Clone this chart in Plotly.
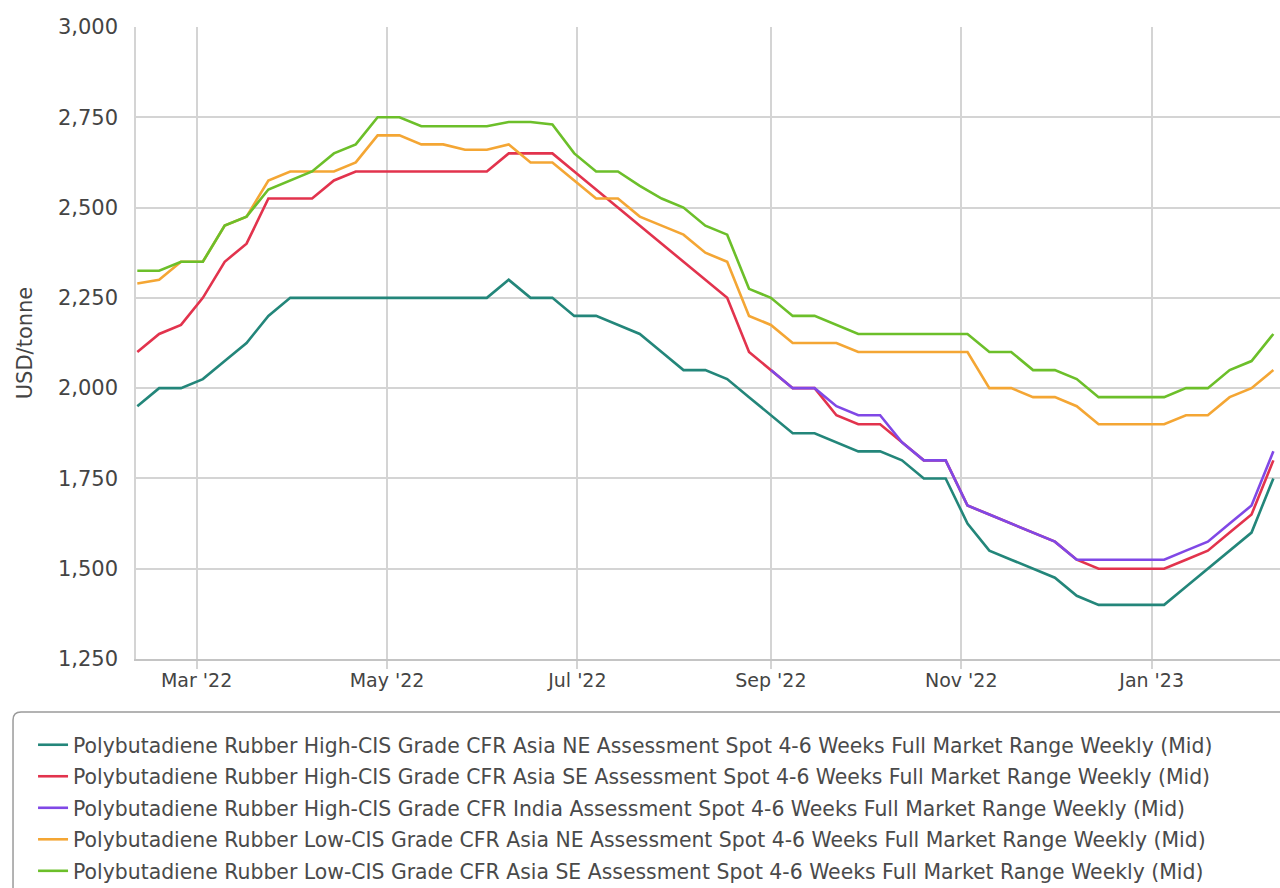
import pandas as pd
import plotly.graph_objects as go

dates = pd.date_range("2022-02-10", periods=53, freq="7D")

names = [
    "Polybutadiene Rubber High-CIS Grade CFR Asia NE Assessment Spot 4-6 Weeks Full Market Range Weekly (Mid)",
    "Polybutadiene Rubber High-CIS Grade CFR Asia SE Assessment Spot 4-6 Weeks Full Market Range Weekly (Mid)",
    "Polybutadiene Rubber High-CIS Grade CFR India Assessment Spot 4-6 Weeks Full Market Range Weekly (Mid)",
    "Polybutadiene Rubber Low-CIS Grade CFR Asia NE Assessment Spot 4-6 Weeks Full Market Range Weekly (Mid)",
    "Polybutadiene Rubber Low-CIS Grade CFR Asia SE Assessment Spot 4-6 Weeks Full Market Range Weekly (Mid)",
]

high_ne = [1950, 2000, 2000, 2025, 2075, 2125, 2200, 2250, 2250, 2250,
           2250, 2250, 2250, 2250, 2250, 2250, 2250, 2300, 2250, 2250,
           2200, 2200, 2175, 2150, 2100, 2050, 2050, 2025, 1975, 1925,
           1875, 1875, 1850, 1825, 1825, 1800, 1750, 1750, 1625, 1550,
           1525, 1500, 1475, 1425, 1400, 1400, 1400, 1400, 1450, 1500,
           1550, 1600, 1750]

high_se = [2100, 2150, 2175, 2250, 2350, 2400, 2525, 2525, 2525, 2575,
           2600, 2600, 2600, 2600, 2600, 2600, 2600, 2650, 2650, 2650,
           2600, 2550, 2500, 2450, 2400, 2350, 2300, 2250, 2100, 2050,
           2000, 2000, 1925, 1900, 1900, 1850, 1800, 1800, 1675, 1650,
           1625, 1600, 1575, 1525, 1500, 1500, 1500, 1500, 1525, 1550,
           1600, 1650, 1800]

high_india = [None] * 29 + [
           2050, 2000, 2000, 1950, 1925, 1925, 1850, 1800, 1800, 1675,
           1650, 1625, 1600, 1575, 1525, 1525, 1525, 1525, 1525, 1550,
           1575, 1625, 1675, 1825]

low_ne = [2290, 2300, 2350, 2350, 2450, 2475, 2575, 2600, 2600, 2600,
          2625, 2700, 2700, 2675, 2675, 2660, 2660, 2675, 2625, 2625,
          2575, 2525, 2525, 2475, 2450, 2425, 2375, 2350, 2200, 2175,
          2125, 2125, 2125, 2100, 2100, 2100, 2100, 2100, 2100, 2000,
          2000, 1975, 1975, 1950, 1900, 1900, 1900, 1900, 1925, 1925,
          1975, 2000, 2050]

low_se = [2325, 2325, 2350, 2350, 2450, 2475, 2550, 2575, 2600, 2650,
          2675, 2750, 2750, 2725, 2725, 2725, 2725, 2737, 2737, 2730,
          2650, 2600, 2600, 2560, 2525, 2500, 2450, 2425, 2275, 2250,
          2200, 2200, 2175, 2150, 2150, 2150, 2150, 2150, 2150, 2100,
          2100, 2050, 2050, 2025, 1975, 1975, 1975, 1975, 2000, 2000,
          2050, 2075, 2150]

series = [high_ne, high_se, high_india, low_ne, low_se]
colors = ["#23867a", "#e2334d", "#8048e6", "#f4a634", "#6cbf2a"]

y_ticks = [1250, 1500, 1750, 2000, 2250, 2500, 2750, 3000]

FONT = "DejaVu Sans"

fig = go.Figure()
for i, (name, vals, col) in enumerate(zip(names, series, colors)):
    fig.add_trace(go.Scatter(
        x=dates, y=vals, name=name, mode="lines",
        line=dict(color=col, width=2.6),
        legendgroup=f"g{i}",
    ))

fig.update_layout(
    width=1280, height=888,
    margin=dict(l=136, r=0, t=27, b=229, autoexpand=False),
    paper_bgcolor="white", plot_bgcolor="white",
    font=dict(family=FONT, color="#444"),
    showlegend=True,
    legend=dict(
        x=-0.090, xanchor="left", y=-0.1044, yanchor="top",
        font=dict(size=20.4, color="#4a4a4a", family=FONT),
        bgcolor="rgba(0,0,0,0)", borderwidth=0,
        traceorder="grouped", tracegroupgap=2,
        itemwidth=30,
    ),
    xaxis=dict(
        range=["2022-02-09 14:00", "2023-02-11 03:00"],
        tickformat="%b '%y", dtick="M2", tick0="2022-03-01",
        showgrid=True, gridcolor="#d4d4d4", gridwidth=1.5,
        showline=True, linecolor="#c4c4c4", linewidth=2,
        ticks="outside", ticklen=8, tickcolor="#d4d4d4", tickwidth=1.5,
        ticklabelstandoff=-5,
        tickfont=dict(size=19, color="#444"),
        zeroline=False,
    ),
    yaxis=dict(
        range=[1250, 3000], tickvals=y_ticks,
        tickformat=",",
        showgrid=True, gridcolor="#d4d4d4", gridwidth=1.5,
        showline=True, linecolor="#d4d4d4", linewidth=1.5,
        ticks="", ticklabelstandoff=12,
        tickfont=dict(size=21, color="#444"),
        title=dict(text="USD/tonne", font=dict(size=21, color="#444"), standoff=20),
        zeroline=False,
    ),
)

# rounded legend frame (extends beyond the visible page like the reference crop)
fig.add_shape(
    type="path", xref="paper", yref="paper",
    path="M -0.1075,-0.6 L -0.1075,-0.0966 Q -0.1075,-0.0839 -0.1005,-0.0839 L 1.05,-0.0839",
    line=dict(color="#9a9a9a", width=1.5),
)

fig.write_html(
    "out.html",
    config={"displayModeBar": False},
    post_script="document.body.style.margin='0';document.body.style.overflow='hidden';",
)
